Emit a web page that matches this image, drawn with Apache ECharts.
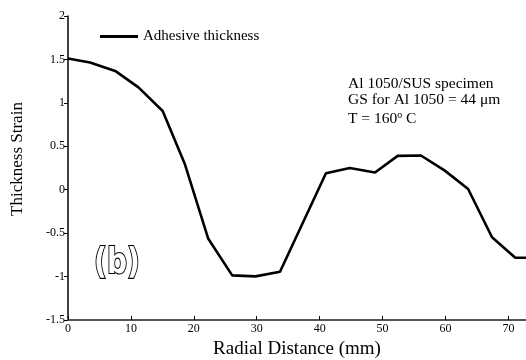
<!DOCTYPE html>
<html><head><meta charset="utf-8">
<script src="https://cdn.jsdelivr.net/npm/echarts@6/dist/echarts.min.js"></script>
<style>html,body{margin:0;padding:0;background:#fff}#c{width:526px;height:360px}</style>
</head><body><div id="c"></div>
<script>
var radialDistance = [0, 3.5, 7.5, 11.2, 15.05, 18.6, 22.3, 26.1, 29.8, 33.7, 41.0, 44.8, 48.8, 52.4, 56.1, 59.9, 63.6, 67.4, 71.1, 72.8];
var thicknessStrain = [1.51, 1.464, 1.368, 1.178, 0.906, 0.29, -0.565, -0.986, -0.998, -0.944, 0.19, 0.249, 0.199, 0.39, 0.394, 0.22, 0.008, -0.547, -0.783, -0.783];
var yTicks = [-1.5, -1, -0.5, 0, 0.5, 1, 1.5, 2];
var xTicks = [0, 10, 20, 30, 40, 50, 60, 70];
var seriesName = 'Adhesive thickness';
var xTitle = 'Radial Distance (mm)';
var yTitle = 'Thickness Strain';
var notes = ['Al 1050/SUS specimen', 'GS for Al 1050 = 44 \u03bcm'];

var serif = '"Liberation Serif", "DejaVu Serif", serif';
var chart = echarts.init(document.getElementById('c'));
chart.setOption({
  animation: false,
  grid: {left: 68, right: 0, top: 16, bottom: 40},
  legend: {
    data: [seriesName], left: 95, top: 24, itemWidth: 38, itemHeight: 3, itemGap: 5,
    icon: 'rect',
    textStyle: {fontFamily: serif, fontSize: 15, color: '#000'}
  },
  xAxis: {
    type: 'value', min: 0, max: 72.8, interval: 10,
    axisLine: {onZero: false, lineStyle: {color: '#555', width: 2}},
    axisTick: {inside: true, length: 4, lineStyle: {color: '#000'}},
    axisLabel: {fontFamily: serif, fontSize: 12, color: '#000', margin: 3, showMaxLabel: false,
      formatter: function(v){ return xTicks.indexOf(v) >= 0 ? String(v) : ''; }},
    splitLine: {show: false}
  },
  yAxis: {
    type: 'value', min: -1.5, max: 2, interval: 0.5,
    axisLine: {show: true, lineStyle: {color: '#000', width: 1.5}},
    axisTick: {show: true, length: 4, lineStyle: {color: '#000'}},
    axisLabel: {fontFamily: serif, fontSize: 12, color: '#000', margin: 3,
      formatter: function(v){ return yTicks.indexOf(v) >= 0 ? String(v) : ''; }},
    splitLine: {show: false}
  },
  series: [{
    name: seriesName, type: 'line', symbol: 'none',
    lineStyle: {color: '#000', width: 2.6},
    itemStyle: {color: '#000'},
    data: radialDistance.map(function(x, i){ return [x, thicknessStrain[i]]; })
  }],
  graphic: [
    {type: 'text', x: 297, y: 349, style: {text: xTitle, font: '19px ' + serif, fill: '#000', align: 'center', verticalAlign: 'middle'}},
    {type: 'text', x: 18, y: 159, rotation: Math.PI / 2, style: {text: yTitle, font: '17px ' + serif, fill: '#000', align: 'center', verticalAlign: 'middle'}},
    {type: 'text', x: 348, y: 76, style: {text: notes[0], font: '15.5px ' + serif, fill: '#000'}},
    {type: 'text', x: 348, y: 92, style: {text: notes[1], font: '15.5px ' + serif, fill: '#000'}},
    {type: 'text', x: 348, y: 110, style: {rich: {n: {font: '15.5px ' + serif, fill: '#000'}, s: {font: '10px ' + serif, fill: '#000', verticalAlign: 'top', padding: [0,0,8,0]}}, text: '{n|T = 160}{s|o}{n| C}'}},
    {type: 'text', x: 117, y: 264, scaleX: 0.78, style: {text: '(b)', font: 'bold 36px "DejaVu Sans", sans-serif', fill: '#fff', stroke: '#000', lineWidth: 2.2, align: 'center', verticalAlign: 'middle'}}
  ]
});
</script></body></html>
